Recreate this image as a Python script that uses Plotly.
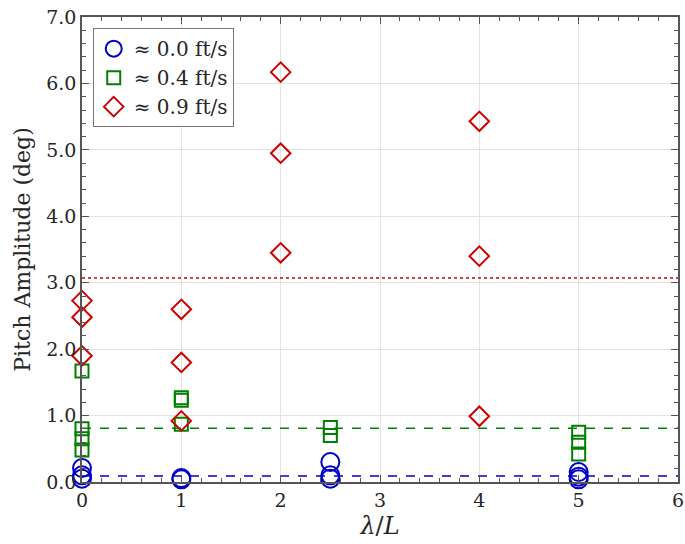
import plotly.graph_objects as go

# Data
lam_00 = [0, 0, 0, 1, 1, 2.5, 2.5, 2.5, 5, 5, 5]
amp_00 = [0.21, 0.10, 0.05, 0.06, 0.04, 0.30, 0.10, 0.05, 0.15, 0.08, 0.04]

lam_04 = [0, 0, 0, 0, 1, 1, 1, 2.5, 2.5, 5, 5, 5]
amp_04 = [1.67, 0.80, 0.65, 0.48, 1.27, 1.23, 0.87, 0.82, 0.70, 0.75, 0.60, 0.42]

lam_09 = [0, 0, 0, 1, 1, 1, 2, 2, 2, 4, 4, 4]
amp_09 = [2.73, 2.48, 1.90, 2.60, 1.80, 0.92, 6.17, 4.95, 3.45, 5.43, 3.40, 0.99]

mean_x = [0, 6]
mean_00 = 0.09
mean_04 = 0.81
mean_09 = 3.07

labels = ["≈ 0.0 ft/s", "≈ 0.4 ft/s", "≈ 0.9 ft/s"]
y_ticks = [0, 1, 2, 3, 4, 5, 6, 7]
y_ticktext = ["0.0", "1.0", "2.0", "3.0", "4.0", "5.0", "6.0", "7.0"]

BLUE = "#0000c8"
GREEN = "#008000"
RED = "#d00000"
FONT = "DejaVu Serif"
TXT = "#262626"

fig = go.Figure()

fig.add_trace(go.Scatter(x=mean_x, y=[mean_00, mean_00], mode="lines",
                         line=dict(color=BLUE, dash="dash", width=1.5), showlegend=False))
fig.add_trace(go.Scatter(x=mean_x, y=[mean_04, mean_04], mode="lines",
                         line=dict(color=GREEN, dash="dash", width=1.5), showlegend=False))
fig.add_trace(go.Scatter(x=mean_x, y=[mean_09, mean_09], mode="lines",
                         line=dict(color=RED, dash="dot", width=1.5), showlegend=False))

fig.add_trace(go.Scatter(x=lam_00, y=amp_00, mode="markers", name=labels[0], cliponaxis=False,
                         marker=dict(symbol="circle-open", size=18, color=BLUE, line=dict(width=2))))
fig.add_trace(go.Scatter(x=lam_04, y=amp_04, mode="markers", name=labels[1], cliponaxis=False,
                         marker=dict(symbol="square-open", size=13, color=GREEN, line=dict(width=2))))
fig.add_trace(go.Scatter(x=lam_09, y=amp_09, mode="markers", name=labels[2], cliponaxis=False,
                         marker=dict(symbol="diamond-open", size=15, color=RED, line=dict(width=2))))

axis_common = dict(
    showline=True, linecolor="#555555", linewidth=1.5, mirror="ticks",
    ticks="inside", ticklen=7, tickcolor="#555555", tickwidth=1.2,
    showgrid=True, gridcolor="#e3e3e3", gridwidth=1, zeroline=False,
    tickfont=dict(family=FONT, size=19, color=TXT),
    minor=dict(ticks="inside", ticklen=4, dtick=0.2, tickcolor="#555555", showgrid=False),
    automargin=False, ticklabeloverflow="allow",
)

fig.update_layout(
    width=685, height=544,
    margin=dict(l=82, r=7, t=17, b=62),
    paper_bgcolor="white", plot_bgcolor="white",
    font=dict(family=FONT, color=TXT),
    xaxis=dict(range=[0, 6], dtick=1, tick0=0,
               title=dict(text="<i>λ</i>/<i>L</i>", font=dict(family=FONT, size=24, color=TXT), standoff=8),
               **axis_common),
    yaxis=dict(range=[0, 7], tickvals=y_ticks, ticktext=y_ticktext,
               title=dict(text="Pitch Amplitude (deg)", font=dict(family=FONT, size=22, color=TXT), standoff=10),
               **axis_common),
    legend=dict(x=0.018, y=0.976, xanchor="left", yanchor="top",
                bgcolor="white", bordercolor="#777777", borderwidth=1,
                font=dict(family=FONT, size=20, color=TXT), tracegroupgap=0),
)

# remove the default 8px page margin so the figure fills the window exactly
fig.write_html("out.html", config={"displayModeBar": False},
               post_script="document.body.style.margin='0';")
